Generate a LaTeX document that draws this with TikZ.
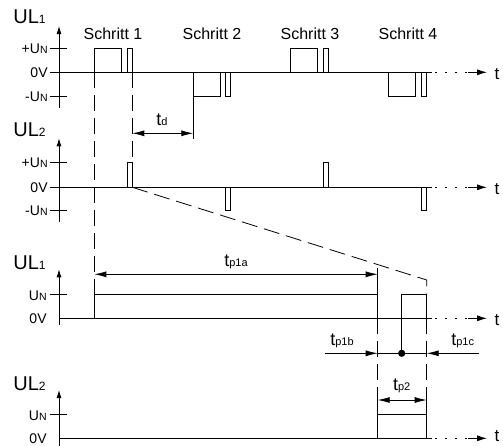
\documentclass[tikz,border=0pt]{standalone}
\usepackage{fontspec}
\setmainfont{Liberation Sans}
\usetikzlibrary{arrows.meta}
\newcommand\ULlab[1]{{\fontsize{20}{20}\selectfont UL}{\fontsize{12}{12}\selectfont #1}}
\newcommand\UNlab[1]{{\fontsize{14}{14}\selectfont #1U}{\fontsize{10.5}{10.5}\selectfont N}}
\newcommand\ZVlab{{\fontsize{14}{14}\selectfont 0V}}
\newcommand\tsub[1]{{\fontsize{18}{18}\selectfont t}{\fontsize{11}{11}\selectfont #1}}
\begin{document}
\begin{tikzpicture}[x=1pt,y=-1pt,line width=0.8pt,
  axarr/.style={-{Latex[length=8pt,width=5pt]}},
  tarr/.style={-{Latex[length=10pt,width=6pt]}},
  dimarr/.style={-{Latex[length=12pt,width=6pt]}},
  dimboth/.style={{Latex[length=12pt,width=6pt]}-{Latex[length=12pt,width=6pt]}},
  dashln/.style={dash pattern=on 16pt off 7pt},
  dotln/.style={dash pattern=on 1.5pt off 8.5pt},
  vlab/.style={anchor=base east,inner sep=0pt},
  ullab/.style={anchor=base west,inner sep=0pt},
  steplab/.style={anchor=base,inner sep=0pt,font=\fontsize{16}{16}\selectfont},
  tlab/.style={anchor=base,inner sep=0pt},
  taxis/.style={anchor=base,inner sep=0pt,font=\fontsize{17}{17}\selectfont}]
\useasboundingbox (0,0) rectangle (503,445);

% ---------- Panel 1 : UL1 ----------
\node[ullab] (ul1a) at (13,23) {\ULlab{1}};
\draw[axarr] (59,108) -- (59,26);
\draw (50,48.3) -- (67,48.3);
\draw (50,96.7) -- (67,96.7);
\node[vlab] (p1pu) at (48,53.3) {\UNlab{+}};
\node[vlab] (p1zv) at (48,77.3) {\ZVlab};
\node[vlab] (p1mu) at (48,101.7) {\UNlab{-}};
\draw (50,72.3) -- (432,72.3);
\draw[dotln] (435,72.3) -- (470,72.3);
\draw[tarr] (468,72.3) -- (487,72.3);
\node[taxis] (t1) at (497,79) {t};
\node[steplab] (s1) at (113,39.3) {Schritt 1};
\node[steplab] (s2) at (212,39.3) {Schritt 2};
\node[steplab] (s3) at (310,39.3) {Schritt 3};
\node[steplab] (s4) at (408,39.3) {Schritt 4};
\draw (94.3,72.3) |- (121.7,48.3) -- (121.7,72.3);
\draw (127.7,72.3) |- (132.3,48.3) -- (132.3,72.3);
\draw (193.3,72.3) |- (220.3,96.7) -- (220.3,72.3);
\draw (225.7,72.3) |- (230.3,96.7) -- (230.3,72.3);
\draw (290,72.3) |- (317.7,48.3) -- (317.7,72.3);
\draw (323.3,72.3) |- (328.3,48.3) -- (328.3,72.3);
\draw (388.3,72.3) |- (415.7,96.7) -- (415.7,72.3);
\draw (421,72.3) |- (426.3,96.7) -- (426.3,72.3);

% ---------- Panel 2 : UL2 ----------
\node[ullab] (ul2a) at (13,136) {\ULlab{2}};
\draw[axarr] (59,221.7) -- (59,138.3);
\draw (50,162.3) -- (67,162.3);
\draw (50,210) -- (67,210);
\node[vlab] (p2pu) at (48,167.3) {\UNlab{+}};
\node[vlab] (p2zv) at (48,192.3) {\ZVlab};
\node[vlab] (p2mu) at (48,215) {\UNlab{-}};
\draw (50,187.3) -- (432,187.3);
\draw[dotln] (435,187.3) -- (470,187.3);
\draw[tarr] (468,187.3) -- (487,187.3);
\node[taxis] (t2) at (497,194) {t};
\draw (127.7,187.3) |- (132.3,162.3) -- (132.3,187.3);
\draw (225.7,187.3) |- (230.3,210) -- (230.3,187.3);
\draw (323.3,187.3) |- (328.3,162.3) -- (328.3,187.3);
\draw (421,187.3) |- (426.3,210) -- (426.3,187.3);

% ---------- Panel 3 : UL1 ----------
\node[ullab] (ul1b) at (13,269) {\ULlab{1}};
\draw[axarr] (59,325) -- (59,269.3);
\draw (50,294.3) -- (67,294.3);
\node[vlab] (p3u) at (47,300) {\UNlab{}};
\node[vlab] (p3zv) at (47,323.3) {\ZVlab};
\draw (59,318.3) -- (432,318.3);
\draw[dotln] (435,318.3) -- (470,318.3);
\draw[tarr] (468,318.3) -- (487,318.3);
\node[taxis] (t3) at (497,325) {t};
\draw (94.3,318.3) |- (377.7,294.3) -- (377.7,318.3);
\draw (401.7,318.3) |- (426.7,294.3) -- (426.7,318.3);

% ---------- Panel 4 : UL2 ----------
\node[ullab] (ul2b) at (13,390) {\ULlab{2}};
\draw[axarr] (59,446) -- (59,390);
\draw (50,414.3) -- (67,414.3);
\node[vlab] (p4u) at (47,420) {\UNlab{}};
\node[vlab] (p4zv) at (47,443.3) {\ZVlab};
\draw (59,438.3) -- (432,438.3);
\draw[dotln] (435,438.3) -- (470,438.3);
\draw[tarr] (468,438.3) -- (487,438.3);
\node[taxis] (t4) at (497,441) {t};
\draw (377.7,438.3) |- (426.7,414.3) -- (426.7,438.3);

% ---------- extension lines ----------
\draw[dashln] (94.3,72.3) -- (94.3,294.3);
\draw[dashln] (132.3,72.3) -- (132.3,162.3);
\draw (193.3,96.7) -- (193.3,139.3);
\draw[dashln] (132.3,187.3) -- (426.7,280) -- (426.7,294.3);
\draw (377.7,268) -- (377.7,294.3);
\draw[dashln] (377.7,318.3) -- (377.7,400);
\draw (377.7,400) -- (377.7,414.3);
\draw[dashln] (426.7,318.3) -- (426.7,400);
\draw (426.7,400) -- (426.7,414.3);

% ---------- dimensions ----------
\coordinate (tdL) at (132.3,133.3);
\coordinate (tdR) at (193.3,133.3);
\draw[dimboth] (tdL) -- (tdR);
\node[tlab] (td) at (162,125.7) {\tsub{d}};

\coordinate (taL) at (94.3,274.3);
\coordinate (taR) at (377.7,274.3);
\draw[dimboth] (taL) -- (taR);
\node[tlab] (tpa) at (236,266.7) {\tsub{p1a}};

\coordinate (tbS) at (325,353.3);
\coordinate (tbE) at (377.7,353.3);
\coordinate (tcS) at (479.3,353.3);
\coordinate (tcE) at (426.7,353.3);
\coordinate (dotp) at (401.7,353.3);
\coordinate (dotTop) at (401.7,294.3);
\draw[dimarr] (tbS) -- (tbE);
\draw[dimarr] (tcS) -- (tcE);
\draw (tbE) -- (tcE);
\draw (dotTop) -- (dotp);
\fill (dotp) circle (3.6);
\node[tlab] (tpb) at (342,345) {\tsub{p1b}};
\node[tlab] (tpc) at (462.7,345) {\tsub{p1c}};

\coordinate (t2L) at (377.7,400);
\coordinate (t2R) at (426.7,400);
\draw[dimboth] (t2L) -- (t2R);
\node[tlab] (tp2) at (401.7,390) {\tsub{p2}};
\end{tikzpicture}
\end{document}
